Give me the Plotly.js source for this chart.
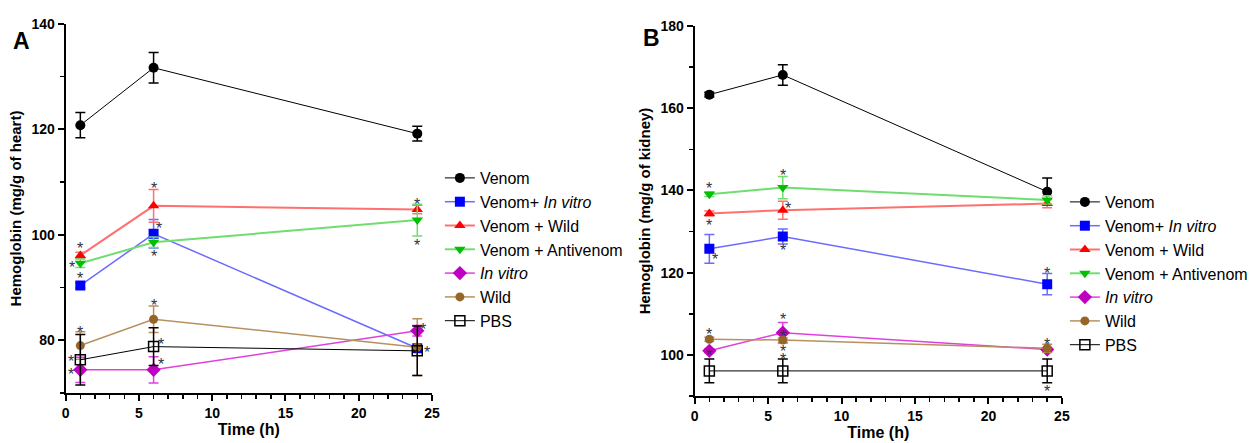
<!DOCTYPE html>
<html>
<head>
<meta charset="utf-8">
<script src="https://cdn.plot.ly/plotly-3.0.1.min.js"></script>
<style>html,body{margin:0;padding:0;background:#fff;}#chart{width:1253px;height:443px;}</style>
</head>
<body>
<div id="chart"></div>
<script>
// ---- data ----
const time = [1, 6, 24];
const seriesNames = ["Venom", "Venom+ <i>In vitro</i>", "Venom + Wild", "Venom + Antivenom", "<i>In vitro</i>", "Wild", "PBS"];

// Panel A: heart
const venomA        = [120.8, 131.7, 119.2];
const venomA_err    = [2.4, 2.9, 1.4];
const venomInVitroA = [90.4, 100.2, 78.5];
const venomInVitroA_err = [0.5, 2.7, 0.5];
const venomWildA    = [96.1, 105.5, 104.8];
const venomWildA_err = [0.6, 3.1, 0.8];
const venomAntiA    = [94.6, 98.6, 102.8];
const venomAntiA_err = [0.8, 1.0, 3.0];
const inVitroA      = [74.4, 74.4, 81.8];
const inVitroA_err  = [2.4, 2.5, 1.0];
const wildA         = [79.0, 84.0, 78.7];
const wildA_err     = [2.6, 2.5, 5.4];
const pbsA          = [76.3, 78.8, 78.0];
const pbsA_err      = [4.8, 3.6, 4.7];

// Panel B: kidney
const venomB        = [163.3, 168.1, 139.7];
const venomB_err    = [0.6, 2.5, 3.3];
const venomInVitroB = [125.8, 128.8, 117.2];
const venomInVitroB_err = [3.5, 1.8, 2.6];
const venomWildB    = [134.4, 135.2, 136.8];
const venomWildB_err = [0.6, 2.2, 1.0];
const venomAntiB    = [139.1, 140.7, 137.7];
const venomAntiB_err = [0.6, 2.7, 1.0];
const inVitroB      = [101.0, 105.4, 101.3];
const inVitroB_err  = [0.5, 2.5, 0.5];
const wildB         = [103.8, 103.6, 101.6];
const wildB_err     = [0.5, 0.5, 1.0];
const pbsB          = [96.1, 96.1, 96.1];
const pbsB_err      = [2.9, 2.9, 2.9];

const yTicksA = [80, 100, 120, 140];
const yTicksB = [100, 120, 140, 160, 180];
const xTicks = [0, 5, 10, 15, 20, 25];

// significance stars: [seriesIndex, timeIndex, dx(px), dy(px, down)]
const starsA = [
  [2,0,0,-11],[3,0,-8,0],[1,0,0,-11],
  [2,1,0,-21],[1,1,5,-9],[3,1,0,10],
  [2,2,0,-9],[3,2,0,21],
  [5,0,0,-17],[5,1,0,-18],
  [6,0,-9,-2],[6,1,7,-6],
  [4,0,-9,1],[4,1,7,-9],[4,2,6,-5],[1,2,10,0]
];
const starsB = [
  [3,0,0,-10],[2,0,0,8],[1,0,6,7],
  [3,1,0,-16],[2,1,5,-6],[1,1,0,10],
  [1,2,0,-15],
  [4,0,0,1],[5,0,0,-9],
  [4,1,0,-17],[4,1,0,0],[5,1,0,7],[5,1,0,15],
  [5,2,0,-8],[6,2,0,17]
];

// ---- styles ----
const styles = [
  {line:'#000000', marker:'#000000', symbol:'circle', lw:1, size:10},
  {line:'#6b6bff', marker:'#0000ff', symbol:'square', lw:1.5, size:10},
  {line:'#ff7070', marker:'#ff0000', symbol:'triangle-up', lw:2, size:10},
  {line:'#70dd70', marker:'#00c000', symbol:'triangle-down', lw:2, size:10},
  {line:'#e040e0', marker:'#c000c0', symbol:'diamond', lw:1.5, size:11},
  {line:'#b89060', marker:'#966528', symbol:'circle', lw:1.5, size:9},
  {line:'#000000', marker:'#000000', symbol:'square-open', lw:1, size:10}
];

const dataA = [venomA, venomInVitroA, venomWildA, venomAntiA, inVitroA, wildA, pbsA];
const errA  = [venomA_err, venomInVitroA_err, venomWildA_err, venomAntiA_err, inVitroA_err, wildA_err, pbsA_err];
const dataB = [venomB, venomInVitroB, venomWildB, venomAntiB, inVitroB, wildB, pbsB];
const errB  = [venomB_err, venomInVitroB_err, venomWildB_err, venomAntiB_err, inVitroB_err, wildB_err, pbsB_err];

const traces = [];
function addTraces(data, err, xa, ya, legendId) {
  data.forEach((vals, i) => {
    const s = styles[i];
    traces.push({
      x: time, y: vals, type: 'scatter', mode: 'lines+markers',
      name: seriesNames[i], xaxis: xa, yaxis: ya, legend: legendId,
      line: {color: s.line, width: s.lw},
      marker: {color: s.marker, symbol: s.symbol, size: s.size,
               line: {color: s.marker, width: s.symbol === 'square-open' ? 1.5 : 0}},
      error_y: {type: 'data', array: err[i], visible: true, color: s.marker === '#000000' ? '#000000' : s.line, thickness: 1.5, width: 5}
    });
  });
}
addTraces(dataA, errA, 'x', 'y', 'legend');
addTraces(dataB, errB, 'x2', 'y2', 'legend2');

const annotations = [];
function addStars(stars, data, xa, ya) {
  stars.forEach(([si, ti, dx, dy]) => {
    annotations.push({
      x: time[ti], y: data[si][ti], xref: xa, yref: ya, text: '*', showarrow: false,
      xshift: dx, yshift: -(dy + 4),
      font: {family: 'Arial, Liberation Sans, sans-serif', size: 16, color: '#2e3444'}
    });
  });
}
addStars(starsA, dataA, 'x', 'y');
addStars(starsB, dataB, 'x2', 'y2');

annotations.push({xref:'paper', yref:'paper', x: 11/1253, y: 1-41/443, xanchor:'left', yanchor:'middle',
  text:'<b>A</b>', showarrow:false, font:{family:'Arial, Liberation Sans, sans-serif', size:23, color:'#000'}});
annotations.push({xref:'paper', yref:'paper', x: 644/1253, y: 1-38/443, xanchor:'left', yanchor:'middle',
  text:'<b>B</b>', showarrow:false, font:{family:'Arial, Liberation Sans, sans-serif', size:23, color:'#000'}});

const tickFont = {family: 'Arial, Liberation Sans, sans-serif', size: 14, color: '#000', weight: 'bold'};
const xTitleFont = {family: 'Arial, Liberation Sans, sans-serif', size: 16, color: '#000', weight: 'bold'};
const yTitleFont = {family: 'Arial, Liberation Sans, sans-serif', size: 15, color: '#000', weight: 'bold'};

function xAxis(domain, anchor) {
  return {
    domain: domain, anchor: anchor, range: [0, 25], tickvals: xTicks, ticktext: xTicks.map(String),
    showgrid: false, zeroline: false, showline: true, linecolor: '#000', linewidth: 2,
    ticks: 'outside', ticklen: 6, tickwidth: 2, tickcolor: '#000', tickfont: tickFont,
    minor: {dtick: 1, ticks: 'outside', ticklen: 4, tickwidth: 1.5, tickcolor: '#000', showgrid: false},
    title: {text: '<b>Time (h)</b>', font: xTitleFont, standoff: 2}
  };
}
function yAxis(domain, anchor, range, ticks, title) {
  return {
    domain: domain, anchor: anchor, range: range, tickvals: ticks, ticktext: ticks.map(String),
    showgrid: false, zeroline: false, showline: true, linecolor: '#000', linewidth: 2,
    ticks: 'outside', ticklen: 6, tickwidth: 2, tickcolor: '#000', tickfont: tickFont,
    minor: {dtick: 10, tick0: 0, ticks: 'outside', ticklen: 4, tickwidth: 1.5, tickcolor: '#000', showgrid: false},
    title: {text: '<b>' + title + '</b>', font: yTitleFont, standoff: 6}
  };
}

const legendFont = {family: 'Arial, Liberation Sans, sans-serif', size: 16, color: '#000'};
const layout = {
  width: 1253, height: 443,
  margin: {l: 0, r: 0, t: 0, b: 0},
  paper_bgcolor: '#fff', plot_bgcolor: '#fff',
  showlegend: true,
  xaxis: xAxis([66/1253, 434/1253], 'y'),
  yaxis: yAxis([1-393/443, 1-24/443], 'x', [70, 140], yTicksA, 'Hemoglobin (mg/g of heart)'),
  xaxis2: xAxis([698/1253, 1067/1253], 'y2'),
  yaxis2: yAxis([1-396/443, 1-26/443], 'x2', [90, 180], yTicksB, 'Hemoglobin (mg/g of kidney)'),
  legend: {x: 442/1253, y: 1-161/443, xanchor: 'left', yanchor: 'top', font: legendFont, bgcolor: 'rgba(0,0,0,0)', itemwidth: 30, tracegroupgap: 0},
  legend2: {x: 1070/1253, y: 1-185/443, xanchor: 'left', yanchor: 'top', font: legendFont, bgcolor: 'rgba(0,0,0,0)', itemwidth: 30, tracegroupgap: 0},
  annotations: annotations
};

Plotly.newPlot('chart', traces, layout, {displayModeBar: false, staticPlot: true});
</script>
</body>
</html>
